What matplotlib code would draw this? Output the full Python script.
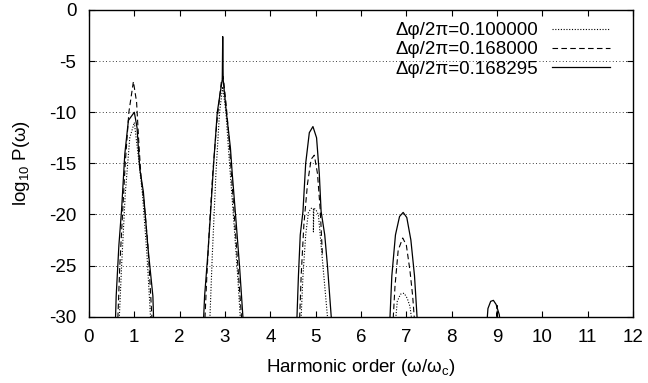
import numpy as np
import matplotlib
matplotlib.use("Agg")
import matplotlib.pyplot as plt

plt.rcParams['font.family'] = ['Liberation Sans', 'DejaVu Sans']
plt.rcParams['mathtext.fontset'] = 'custom'
plt.rcParams['mathtext.rm'] = 'Liberation Sans'
plt.rcParams['mathtext.it'] = 'Liberation Sans'
plt.rcParams['axes.unicode_minus'] = False

nan = np.nan

# spectra, peaks separated by nan
# dphi/2pi = 0.100000 (dotted)
x_a = [0.66, 0.72, 0.80, 0.90, 1.00, 1.08, 1.18, 1.28, 1.37, nan,
       2.66, 2.72, 2.80, 2.88, 2.95, 3.02, 3.10, 3.20, 3.28, 3.35, nan,
       4.67, 4.72, 4.78, 4.84, 4.90, 4.95, 4.95, 4.96, 5.00, 5.06, 5.12, 5.20, 5.28, nan,
       6.75, 6.80, 6.87, 6.95, 7.02, 7.08, 7.14]
y_a = [-31, -25, -18, -12.5, -11, -14, -18, -24, -31, nan,
       -31, -24, -16, -10, -7.5, -10, -15, -21, -26, -31, nan,
       -31, -26, -22, -19.8, -19.4, -19.4, -21.7, -19.4, -19.5, -20, -23, -27, -31, nan,
       -31, -28.5, -27.8, -27.7, -28.2, -29, -31]

# dphi/2pi = 0.168000 (dashed)
x_b = [0.63, 0.68, 0.74, 0.80, 0.88, 0.98, 1.05, 1.10, 1.15, 1.22, 1.30, 1.40, nan,
       2.55, 2.60, 2.66, 2.73, 2.82, 2.92, 2.96, 3.02, 3.08, 3.14, 3.22, 3.30, 3.38, nan,
       4.64, 4.68, 4.74, 4.82, 4.90, 4.97, 5.04, 5.10, 5.15, nan,
       6.70, 6.75, 6.82, 6.92, 7.00, 7.08, 7.14, 7.19, nan,
       8.99, 9.00, 9.01]
y_b = [-31, -25, -20, -15, -10, -7, -9, -13, -16.5, -19, -23, -31, nan,
       -31, -26, -21, -16, -11, -7, -6.5, -9, -12, -16, -21, -26, -31, nan,
       -31, -26, -21, -17, -14.6, -14.2, -16, -19.5, -24, nan,
       -31, -27, -23.5, -22.3, -23, -25.5, -28, -31, nan,
       -31, -28.9, -31]

# dphi/2pi = 0.168295 (solid)
x_c = [0.58, 0.60, 0.66, 0.72, 0.79, 0.87, 1.00, 1.06, 1.12, 1.20, 1.30, 1.41, 1.43, nan,
       2.52, 2.55, 2.62, 2.68, 2.75, 2.83, 2.94, 2.95, 2.96, 3.03, 3.12, 3.16, 3.25, 3.32, 3.41, nan,
       4.58, 4.62, 4.66, 4.72, 4.78, 4.86, 4.94, 5.02, 5.08, 5.12, 5.20, 5.26, 5.36, nan,
       6.63, 6.68, 6.76, 6.85, 6.93, 7.01, 7.10, 7.18, 7.25, nan,
       8.77, 8.80, 8.86, 8.92, 8.98, 9.05, 9.08]
y_c = [-31, -28, -23, -19.5, -14.1, -10.8, -10.0, -11.5, -15.5, -17.8, -23.2, -28, -31, nan,
       -31, -28, -24, -20, -15, -10, -6.8, -2.6, -6.8, -10, -13.5, -16, -21, -25, -31, nan,
       -31, -26, -22, -19.7, -15, -12, -11.4, -12.5, -16, -19.7, -22, -25, -31, nan,
       -31, -26, -22, -20.2, -19.8, -20.3, -22.5, -26, -31, nan,
       -31, -29.2, -28.5, -28.4, -28.8, -29.8, -31]

labels = ['Δφ/2π=0.100000',
          'Δφ/2π=0.168000',
          'Δφ/2π=0.168295']

fs = 13.5

fig = plt.figure(figsize=(6.48, 3.83), dpi=100)
ax = fig.add_axes([0.1373, 0.1731, 0.8396, 0.8008])

ax.plot(x_a, y_a, color='black', lw=0.8, ls=(0, (1, 1.5)), label=labels[0])
ax.plot(x_b, y_b, color='black', lw=0.8, ls=(0, (5, 3)), label=labels[1])
ax.plot(x_c, y_c, color='black', lw=0.9, ls='-', label=labels[2])

ax.set_xlim(0, 12)
ax.set_ylim(-30, 0)
ax.set_xticks(range(0, 13))
ax.set_yticks(range(-30, 1, 5))
ax.tick_params(direction='in', top=True, right=True, length=4, width=0.8,
               labelsize=fs, pad=9)
for y in range(-25, 0, 5):
    ax.axhline(y, color='black', lw=0.6, ls=(0, (1, 3)), zorder=0)
for s in ax.spines.values():
    s.set_linewidth(1.0)

ax.set_xlabel(r'Harmonic order ($\omega/\omega_c$)', fontsize=fs, labelpad=8)
ax.set_ylabel(r'log$_{10}$ P($\omega$)', fontsize=fs, labelpad=12)

ax.legend(loc='upper right', frameon=False, markerfirst=False, fontsize=fs,
          handlelength=3.1, handletextpad=0.75, labelspacing=0.12,
          borderpad=0, borderaxespad=0, bbox_to_anchor=(0.958, 0.961))

fig.savefig('out.png', dpi=100)
